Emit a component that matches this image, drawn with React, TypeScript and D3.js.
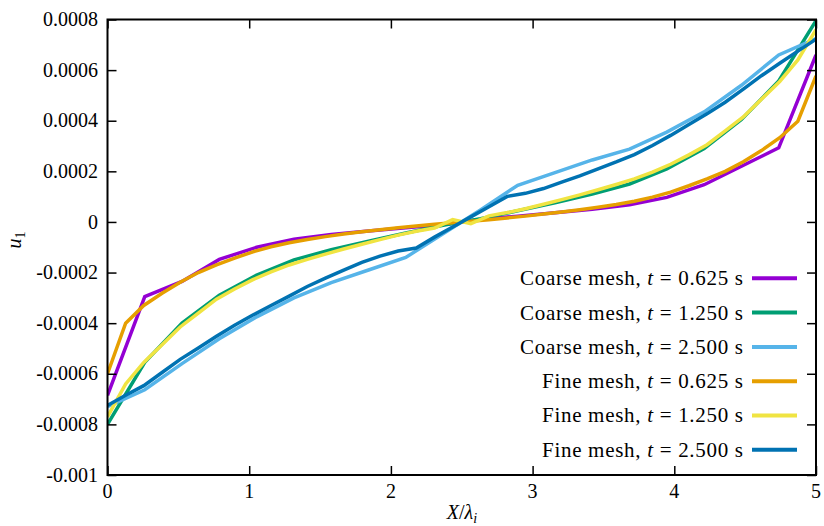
import React, { useEffect, useRef } from "react";
import * as d3 from "d3";

// Mesh nodes (X / lambda_i)
const coarseX = [0, 0.263, 0.526, 0.789, 1.053, 1.316, 1.579, 1.842, 2.105, 2.368, 2.632, 2.895, 3.158, 3.421, 3.684, 3.947, 4.211, 4.474, 4.737, 5];
const fineX = [0, 0.128, 0.256, 0.385, 0.513, 0.641, 0.769, 0.897, 1.026, 1.154, 1.282, 1.41, 1.538, 1.667, 1.795, 1.923, 2.051, 2.179, 2.308, 2.436, 2.564, 2.692, 2.821, 2.949, 3.077, 3.205, 3.333, 3.462, 3.59, 3.718, 3.846, 3.974, 4.103, 4.231, 4.359, 4.487, 4.615, 4.744, 4.872, 5];

// u_1 values in units of 1e-4
const UNIT = 1e-4;
const coarse0625 = [-6.85, -2.95, -2.35, -1.48, -1.0, -0.68, -0.5, -0.36, -0.23, -0.1, 0.1, 0.23, 0.36, 0.5, 0.68, 0.97, 1.47, 2.2, 2.93, 6.6];
const coarse1250 = [-8.0, -5.55, -4.0, -2.9, -2.1, -1.5, -1.1, -0.76, -0.44, -0.13, 0.13, 0.44, 0.76, 1.1, 1.5, 2.1, 2.9, 4.05, 5.57, 7.95];
const coarse2500 = [-7.3, -6.63, -5.6, -4.62, -3.75, -3.0, -2.4, -1.9, -1.4, -0.47, 0.47, 1.45, 1.95, 2.45, 2.88, 3.55, 4.35, 5.4, 6.6, 7.25];
const fine0625 = [-6.0, -4.0, -3.3, -2.82, -2.38, -2.0, -1.7, -1.43, -1.18, -0.98, -0.82, -0.69, -0.58, -0.48, -0.39, -0.31, -0.23, -0.16, -0.09, -0.03, 0.03, 0.09, 0.16, 0.23, 0.31, 0.39, 0.48, 0.58, 0.69, 0.82, 0.98, 1.18, 1.43, 1.7, 2.0, 2.38, 2.82, 3.33, 3.98, 5.77];
const fine1250 = [-7.7, -6.4, -5.55, -4.85, -4.15, -3.6, -3.05, -2.65, -2.28, -1.97, -1.7, -1.48, -1.27, -1.07, -0.88, -0.7, -0.52, -0.37, -0.24, 0.09, -0.07, 0.24, 0.37, 0.52, 0.7, 0.88, 1.07, 1.27, 1.48, 1.7, 1.97, 2.28, 2.65, 3.05, 3.6, 4.15, 4.85, 5.55, 6.4, 7.6];
const fine2500 = [-7.25, -6.85, -6.47, -5.95, -5.43, -4.98, -4.52, -4.08, -3.68, -3.3, -2.93, -2.55, -2.22, -1.9, -1.6, -1.35, -1.15, -1.03, -0.6, -0.2, 0.2, 0.6, 1.01, 1.13, 1.32, 1.57, 1.82, 2.1, 2.37, 2.66, 3.02, 3.42, 3.85, 4.28, 4.73, 5.25, 5.78, 6.27, 6.75, 7.22];

const seriesMesh = ["Coarse mesh", "Coarse mesh", "Coarse mesh", "Fine mesh", "Fine mesh", "Fine mesh"];
const seriesTime = ["0.625", "1.250", "2.500", "0.625", "1.250", "2.500"];
const seriesColors = ["#9400D3", "#009E73", "#56B4E9", "#E69F00", "#F0E442", "#0072B2"];

const xTicks = [0, 1, 2, 3, 4, 5];
const xTickLabels = ["0", "1", "2", "3", "4", "5"];
const yTicks = [0.0008, 0.0006, 0.0004, 0.0002, 0, -0.0002, -0.0004, -0.0006, -0.0008, -0.001];
const yTickLabels = ["0.0008", "0.0006", "0.0004", "0.0002", "0", "-0.0002", "-0.0004", "-0.0006", "-0.0008", "-0.001"];

const W = 824;
const H = 526;
const M = { left: 107.5, right: 816, top: 19.5, bottom: 475 };
const FONT = "'Liberation Serif', 'Times New Roman', serif";

export default function App() {
  const ref = useRef<SVGSVGElement | null>(null);

  useEffect(() => {
    const svg = d3.select(ref.current);
    svg.selectAll("*").remove();

    const x = d3.scaleLinear().domain([0, 5]).range([M.left, M.right]);
    const y = d3.scaleLinear().domain([-0.001, 0.0008]).range([M.bottom, M.top]);

    svg.append("defs").append("clipPath").attr("id", "plotclip")
      .append("rect")
      .attr("x", M.left).attr("y", M.top)
      .attr("width", M.right - M.left).attr("height", M.bottom - M.top);

    const series = [
      { xs: coarseX, ys: coarse0625 },
      { xs: coarseX, ys: coarse1250 },
      { xs: coarseX, ys: coarse2500 },
      { xs: fineX, ys: fine0625 },
      { xs: fineX, ys: fine1250 },
      { xs: fineX, ys: fine2500 },
    ];

    const line = d3.line<[number, number]>()
      .x((d) => x(d[0]))
      .y((d) => y(d[1] * UNIT));

    const gLines = svg.append("g").attr("clip-path", "url(#plotclip)");
    series.forEach((s, i) => {
      const pts: [number, number][] = s.xs.map((xv, k) => [xv, s.ys[k]]);
      gLines.append("path")
        .attr("d", line(pts) as string)
        .attr("fill", "none")
        .attr("stroke", seriesColors[i])
        .attr("stroke-width", 3.5)
        .attr("stroke-linejoin", "miter");
    });

    // Axes with inward ticks on all four sides
    const tickLen = 9;
    const axisG = svg.append("g");
    const xBottom = d3.axisBottom(x).tickValues(xTicks).tickSize(-tickLen).tickFormat(() => "");
    const xTop = d3.axisTop(x).tickValues(xTicks).tickSize(-tickLen).tickFormat(() => "");
    const yLeft = d3.axisLeft(y).tickValues(yTicks).tickSize(-tickLen).tickFormat(() => "");
    const yRight = d3.axisRight(y).tickValues(yTicks).tickSize(-tickLen).tickFormat(() => "");
    axisG.append("g").attr("transform", `translate(0,${M.bottom})`).call(xBottom);
    axisG.append("g").attr("transform", `translate(0,${M.top})`).call(xTop);
    axisG.append("g").attr("transform", `translate(${M.left},0)`).call(yLeft);
    axisG.append("g").attr("transform", `translate(${M.right},0)`).call(yRight);
    axisG.selectAll(".domain").remove();
    axisG.selectAll(".tick line").attr("stroke", "#000").attr("stroke-width", 1.5);

    svg.append("rect")
      .attr("x", M.left).attr("y", M.top)
      .attr("width", M.right - M.left).attr("height", M.bottom - M.top)
      .attr("fill", "none").attr("stroke", "#000").attr("stroke-width", 2);

    // Tick labels
    const labG = svg.append("g").attr("font-family", FONT).attr("font-size", 20).attr("fill", "#000");
    xTicks.forEach((t, i) => {
      labG.append("text")
        .attr("x", x(t)).attr("y", 498)
        .attr("text-anchor", "middle")
        .text(xTickLabels[i]);
    });
    yTicks.forEach((t, i) => {
      labG.append("text")
        .attr("x", 98).attr("y", y(t))
        .attr("dy", "0.33em")
        .attr("text-anchor", "end")
        .text(yTickLabels[i]);
    });

    // Axis titles
    const xt = labG.append("text").attr("x", 462).attr("y", 519).attr("text-anchor", "middle");
    xt.append("tspan").attr("font-style", "italic").text("X");
    xt.append("tspan").text("/");
    xt.append("tspan").attr("font-style", "italic").text("λ");
    xt.append("tspan").attr("font-style", "italic").attr("font-size", 14).attr("dy", 4).text("i");

    const yt = labG.append("text")
      .attr("transform", `translate(21,240) rotate(-90)`)
      .attr("text-anchor", "middle");
    yt.append("tspan").attr("font-style", "italic").text("u");
    yt.append("tspan").attr("font-size", 14).attr("dy", 4).text("1");

    // Legend
    const legRowY = [278.3, 312.6, 346.9, 381.2, 415.5, 449.8];
    const legG = svg.append("g").attr("font-family", FONT).attr("font-size", 21);
    seriesColors.forEach((c, i) => {
      const ly = legRowY[i];
      const isCoarse = seriesMesh[i].startsWith("Coarse");
      const w = isCoarse ? 223 : 201;
      const t = legG.append("text")
        .attr("x", 743 - w).attr("y", ly).attr("dy", "0.33em")
        .attr("text-anchor", "start")
        .attr("textLength", w)
        .attr("lengthAdjust", "spacing");
      t.append("tspan").text(seriesMesh[i] + ", ");
      t.append("tspan").attr("font-style", "italic").text("t");
      t.append("tspan").text(" = " + seriesTime[i] + " s");
      legG.append("line")
        .attr("x1", 752).attr("x2", 797)
        .attr("y1", ly).attr("y2", ly)
        .attr("stroke", c).attr("stroke-width", 4);
    });
  }, []);

  return (
    <svg
      ref={ref}
      width={W}
      height={H}
      style={{ position: "absolute", left: 0, top: 0, background: "#fff" }}
    />
  );
}
